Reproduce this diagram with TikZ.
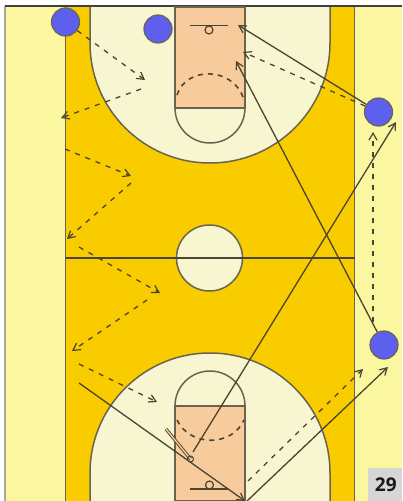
\documentclass[tikz,border=0pt]{standalone}
\usepackage{fontspec}
\setsansfont{Open Sans}
\usetikzlibrary{arrows.meta}
\definecolor{bgy}{HTML}{FAF7A0}
\definecolor{court}{HTML}{F9CC00}
\definecolor{keyc}{HTML}{F8CB9C}
\definecolor{pale}{HTML}{F7F6D0}
\definecolor{pl}{HTML}{5F5FEF}
\definecolor{ln}{HTML}{6A6350}
\definecolor{dk}{HTML}{4A4430}
\tikzset{
 courtline/.style={draw=ln,line width=1.5pt},
 player/.style={circle,draw=ln,fill=pl,line width=1.2pt,minimum size=28pt,inner sep=0pt},
 pass/.style={draw=dk,line width=1.3pt,-{Straight Barb[length=7pt,width=8pt,line width=1.2pt]}},
 move/.style={pass,dash pattern=on 5pt off 6pt},
 freethrow/.style={draw=dk,line width=1.6pt,dash pattern=on 5pt off 5pt},
}
\begin{document}
\begin{tikzpicture}[x=1pt,y=-1pt]
\useasboundingbox (0,0) rectangle (402,501);
\fill[white] (0,0) rectangle (402,501);
\fill[bgy] (5,6) rectangle (402,501);
\draw[gray!70,line width=1.3pt] (5,501) -- (5,6);
\draw[black!75,line width=1.3pt] (5,6) -- (402,6);
% court
\fill[court] (65.5,7) rectangle (354.5,501);
\draw[courtline] (65.5,7) -- (65.5,501) (354.5,7) -- (354.5,501);
% top area
\path[courtline,fill=pale] (90,7) -- (90,43) arc[start angle=180,end angle=0,radius=120] -- (330,7);
\path[courtline,fill=pale] (175,108) arc[start angle=180,end angle=0,radius=35];
\path[courtline,fill=keyc] (175,7) rectangle (245,108);
% bottom area
\path[courtline,fill=pale] (90,501) -- (90,473) arc[start angle=180,end angle=360,radius=120] -- (330,501);
\path[courtline,fill=pale] (175,406) arc[start angle=180,end angle=360,radius=35];
\path[courtline,fill=keyc] (175,406) rectangle (245,501);
% centre
\path[courtline,fill=pale] (209.5,258) circle[radius=33];
\draw[dk,line width=1.5pt] (65.5,258) -- (354.5,258);
% hoops
\draw[dk,line width=1.3pt] (190,25.5) -- (228,25.5);
\draw[dk,line width=1.2pt] (209,30) circle[radius=4];
\draw[dk,line width=1.3pt] (190,489) -- (228,489);
\draw[dk,line width=1.2pt] (209.5,485) circle[radius=4];
% free-throw dashes
\draw[freethrow] (177,95) .. controls (186,66) and (234,66) .. (244,100);
\draw[freethrow] (177,420) .. controls (190,447) and (232,447) .. (244,420);
% players
\node[player] (p1) at (65.5,22) {};
\node[player] (p2) at (158,29) {};
\node[player] (p3) at (378.5,112) {};
\node[player] (p4) at (384,345) {};
% waypoints
\coordinate (a1) at (145,80);
\coordinate (a2s) at (141,89);
\coordinate (a2) at (61,118);
\coordinate (a3s) at (65,149);
\coordinate (a3) at (131,176);
\coordinate (a4s) at (131,183);
\coordinate (a4) at (67,239);
\coordinate (a5s) at (79,247);
\coordinate (a5) at (160,293);
\coordinate (a6s) at (147,300);
\coordinate (a6) at (72,351);
\coordinate (a7s) at (79,364);
\coordinate (a7) at (157,402);
\coordinate (b1s) at (79,383);
\coordinate (b1) at (245,501);
\coordinate (h) at (190.5,459);
\coordinate (hs) at (193,452);
\coordinate (c1) at (396,122);
\coordinate (c2s) at (247,501);
\coordinate (c2) at (388,367);
\coordinate (c3s) at (248,481);
\coordinate (c3) at (363,369);
\coordinate (d1) at (243,52);
\coordinate (d2) at (238,25);
\coordinate (d3) at (236,61);
\coordinate (d4) at (373,132);
\coordinate (d4s) at (373,322);
\coordinate (hb) at (166,429);
% connectors
\draw[move] (p1) -- (a1);
\draw[move] (a2s) -- (a2);
\draw[move] (a3s) -- (a3);
\draw[move] (a4s) -- (a4);
\draw[move] (a5s) -- (a5);
\draw[move] (a6s) -- (a6);
\draw[move] (a7s) -- (a7);
\draw[pass] (b1s) -- (b1);
\draw[pass] (hs) -- (c1);
\draw[pass] (c2s) -- (c2);
\draw[move] (c3s) -- (c3);
\draw[move] (p3) -- (d1);
\draw[pass] (p3) -- (d2);
\draw[pass] (p4) -- (d3);
\draw[move] (d4s) -- (d4);
% handoff
\draw[dk,line width=3.2pt] (hb) -- (h);
\draw[keyc,line width=1.4pt] (hb) -- (h);
\draw[dk,line width=1pt] (h) circle[radius=3];
% page number
\node[fill=black!16,minimum width=34pt,minimum height=33pt,inner sep=0pt,anchor=south east,font=\sffamily\bfseries\fontsize{19pt}{21pt}\selectfont,text=black!90] (pg) at (402,501) {\hspace{2pt}29};
\end{tikzpicture}
\end{document}
